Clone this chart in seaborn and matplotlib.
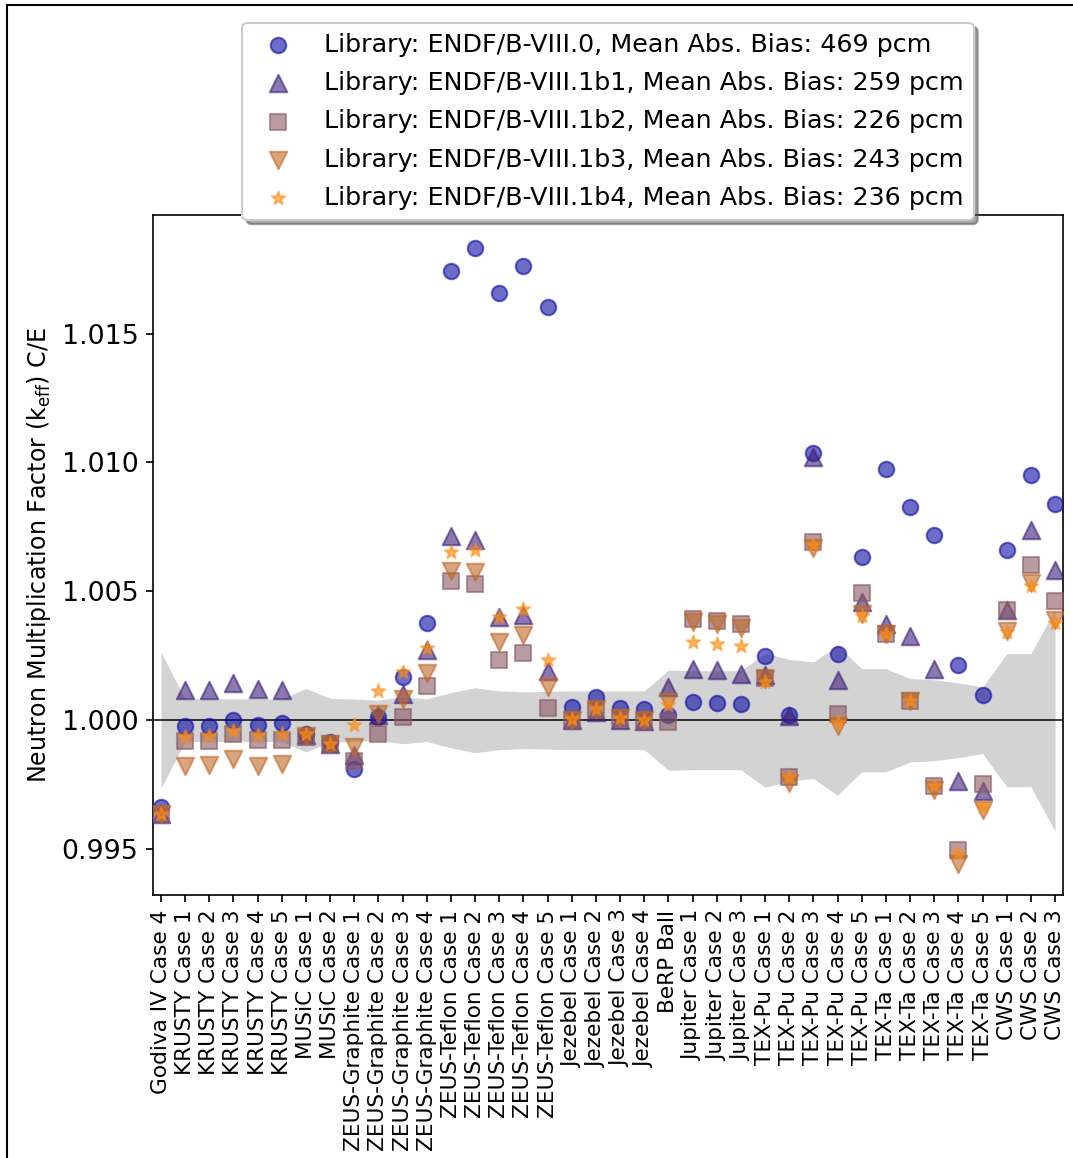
import numpy as np
import pandas as pd
import matplotlib
matplotlib.use("Agg")
import matplotlib.pyplot as plt
from matplotlib.patches import Rectangle
import seaborn as sns

# Benchmark cases on the x axis
cases = [
    "Godiva IV Case 4",
    "KRUSTY Case 1", "KRUSTY Case 2", "KRUSTY Case 3", "KRUSTY Case 4", "KRUSTY Case 5",
    "MUSiC Case 1", "MUSiC Case 2",
    "ZEUS-Graphite Case 1", "ZEUS-Graphite Case 2", "ZEUS-Graphite Case 3", "ZEUS-Graphite Case 4",
    "ZEUS-Teflon Case 1", "ZEUS-Teflon Case 2", "ZEUS-Teflon Case 3", "ZEUS-Teflon Case 4",
    "ZEUS-Teflon Case 5",
    "Jezebel Case 1", "Jezebel Case 2", "Jezebel Case 3", "Jezebel Case 4",
    "BeRP Ball",
    "Jupiter Case 1", "Jupiter Case 2", "Jupiter Case 3",
    "TEX-Pu Case 1", "TEX-Pu Case 2", "TEX-Pu Case 3", "TEX-Pu Case 4", "TEX-Pu Case 5",
    "TEX-Ta Case 1", "TEX-Ta Case 2", "TEX-Ta Case 3", "TEX-Ta Case 4", "TEX-Ta Case 5",
    "CWS Case 1", "CWS Case 2", "CWS Case 3",
]

# C/E bias per library, in pcm
bias_viii0 = [-335, -23, -23, 0, -19, -10, -52, -84, -191, 13, 168, 377,
              1742, 1832, 1658, 1761, 1602, 50, 90, 49, 45, 19, 71, 67, 62,
              248, 22, 1037, 255, 633, 975, 827, 717, 213, 96, 661, 953, 840]
bias_1b1 = [-362, 119, 119, 145, 123, 119, -58, -93, -136, 19, 103, 271,
            713, 698, 400, 407, 191, 0, 32, 0, -3, 127, 200, 194, 178,
            174, 16, 1023, 158, 459, 375, 326, 200, -235, -274, 429, 739, 584]
bias_1b2 = [-362, -80, -80, -52, -75, -75, -64, -93, -160, -52, 13, 133,
            539, 530, 235, 262, 49, 0, 40, 10, -3, -7, 394, 385, 375,
            165, -220, 691, 26, 493, 336, 75, -256, -504, -248, 429, 601, 461]
bias_1b3 = [-362, -177, -174, -149, -178, -170, -60, -93, -103, 26, 84, 183,
            579, 575, 303, 332, 127, 0, 45, 10, 0, 71, 381, 372, 359,
            160, -245, 669, -23, 411, 336, 75, -271, -556, -349, 346, 532, 390]
bias_1b4 = [-362, -65, -62, -43, -58, -55, -55, -93, -19, 114, 187, 282,
            652, 662, 400, 433, 233, 6, 45, 10, 0, 58, 303, 295, 287,
            148, -220, 678, -6, 403, 336, 75, -256, -517, -338, 342, 519, 377]

# Experimental 1-sigma uncertainty, in pcm
exp_unc = [264, 82, 83, 83, 83, 83, 123, 85, 82, 78, 91, 83,
           107, 126, 114, 110, 112, 114, 114, 114, 114, 194, 192, 192, 192,
           260, 236, 226, 291, 200, 200, 162, 157, 145, 129, 258, 258, 430]

libraries = ["ENDF/B-VIII.0", "ENDF/B-VIII.1b1", "ENDF/B-VIII.1b2",
             "ENDF/B-VIII.1b3", "ENDF/B-VIII.1b4"]
mean_abs_bias = [469, 259, 226, 243, 236]
all_bias = [bias_viii0, bias_1b1, bias_1b2, bias_1b3, bias_1b4]

markers = ["o", "^", "s", "v", "*"]
colors = ["#0c0ca4", "#3e1e78", "#8a5a64", "#c06a2a", "#ff8c10"]
sizes = [55, 70, 55, 70, 45]

FS = 10.4
plt.rcParams["font.family"] = ["DejaVu Sans"]
plt.rcParams["font.size"] = FS

fig = plt.figure(figsize=(1073 / 150, 1158 / 150), dpi=150)
ax = fig.add_axes([153 / 1073, 1 - 895 / 1158, 910 / 1073, 680 / 1158])

pos = np.arange(len(cases))
unc = np.array(exp_unc) * 1e-5
ax.fill_between(pos, 1 - unc, 1 + unc, color="lightgray", lw=0, zorder=0)
ax.axhline(1.0, color="black", lw=0.9, alpha=0.8, zorder=1)

for lib, mab, bias, mk, col, s in zip(libraries, mean_abs_bias, all_bias,
                                      markers, colors, sizes):
    df = pd.DataFrame({"case": cases, "ce": 1 + np.array(bias) * 1e-5})
    sns.scatterplot(data=df, x="case", y="ce", ax=ax, marker=mk, color=col,
                    edgecolor=col, linewidth=1.0, alpha=0.6, s=s,
                    legend=False, zorder=3,
                    label=f"Library: {lib}, Mean Abs. Bias: {mab} pcm")

ax.set_xlim(-0.33, len(cases) - 1 + 0.33)
ax.set_ylim(0.99322, 1.0196)
ax.set_yticks([0.995, 1.000, 1.005, 1.010, 1.015])
ax.yaxis.set_major_formatter(matplotlib.ticker.FormatStrFormatter("%.3f"))
ax.tick_params(axis="y", labelsize=12.9)
ax.tick_params(axis="x", labelrotation=90, labelsize=FS)
ax.set_xlabel("")
ax.set_ylabel(r"Neutron Multiplication Factor (k$_{\mathrm{eff}}$) C/E", fontsize=11.4)

ax.legend(loc="lower center", bbox_to_anchor=(0.5, 1 - 5 / 680), borderaxespad=0,
          shadow=True, fontsize=12.2, scatterpoints=1, labelspacing=0.56)

fig.patches.append(Rectangle((7 / 1073, -0.5), 2.0, 1.5 - 5 / 1158,
                             transform=fig.transFigure, fill=False,
                             edgecolor="black", lw=1.0, zorder=10))

fig.savefig("out.png", dpi=150)
